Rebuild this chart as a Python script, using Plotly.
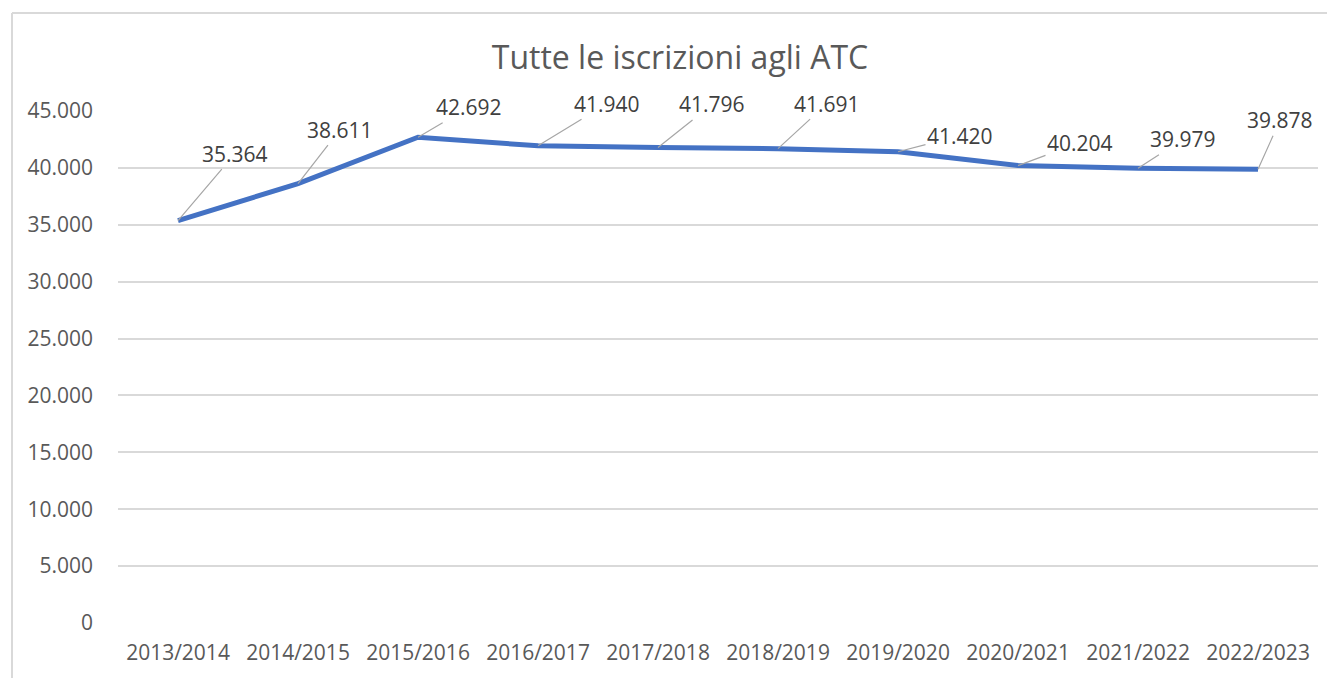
import plotly.graph_objects as go

categories = ["2013/2014", "2014/2015", "2015/2016", "2016/2017", "2017/2018",
              "2018/2019", "2019/2020", "2020/2021", "2021/2022", "2022/2023"]
values = [35364, 38611, 42692, 41940, 41796, 41691, 41420, 40204, 39979, 39878]
# label offsets (pixels) from each point, for the leader-line labels
label_dx = [57, 42, 51, 69, 54, 49, 62, 62, 45, 22]
label_dy = [-67, -54, -30, -42, -43, -45, -16, -23, -29, -49]

FONT = "Open Sans, Liberation Sans, sans-serif"
TXT = "#595959"

fig = go.Figure()
fig.add_trace(go.Scatter(
    x=categories, y=values, mode="lines",
    line=dict(color="#4472C4", width=5),
    hoverinfo="x+y", showlegend=False,
))

for c, v, dx, dy in zip(categories, values, label_dx, label_dy):
    fig.add_annotation(
        x=c, y=v, xref="x", yref="y",
        text=f"{v:,}".replace(",", "."),
        showarrow=True, arrowhead=0, arrowwidth=1.2, arrowcolor="#A6A6A6",
        ax=dx, ay=dy, standoff=0,
        font=dict(family=FONT, size=21, color="#404040"),
    )

# page body has an 8px margin; work in page pixels and compensate
OFF = 8
W, H = 1335 - OFF, 678 - OFF
L, R, T, B = 118 - OFF, 1335 - 1318, 111 - OFF, 678 - 623
pw, ph = W - L - R, H - T - B

def px(x):
    return (x - OFF - L) / pw

def py(y):
    return (678 - B - y) / ph

# outer chart border (cropped on the right and bottom)
fig.add_shape(type="line", xref="paper", yref="paper",
              x0=px(12), x1=px(1400), y0=py(13), y1=py(13),
              line=dict(color="#D9D9D9", width=2))
fig.add_shape(type="line", xref="paper", yref="paper",
              x0=px(12), x1=px(12), y0=py(13), y1=py(700),
              line=dict(color="#D9D9D9", width=2))

fig.update_layout(
    width=W, height=H,
    margin=dict(l=L, r=R, t=T, b=B, autoexpand=False),
    paper_bgcolor="white", plot_bgcolor="white",
    separators=",.",
    title=dict(text="Tutte le iscrizioni agli ATC", x=(680 - OFF) / W, xref="container",
               xanchor="center", y=1 - (58 - OFF) / H, yref="container", yanchor="middle",
               font=dict(family=FONT, size=32, color=TXT)),
    font=dict(family=FONT, color=TXT),
    xaxis=dict(type="category", range=[-0.5, len(categories) - 0.5],
               showgrid=False, showline=False, zeroline=False, automargin=False,
               ticks="", tickfont=dict(family=FONT, size=21, color=TXT),
               ticklabelstandoff=15),
    yaxis=dict(range=[0, 45000], dtick=5000, tickformat=",d", automargin=False,
               showgrid=True, gridcolor="#D9D9D9", gridwidth=1.5,
               zeroline=False, showline=False, ticks="",
               tickfont=dict(family=FONT, size=21, color=TXT),
               ticklabelstandoff=24),
)

fig.write_html("out.html")
